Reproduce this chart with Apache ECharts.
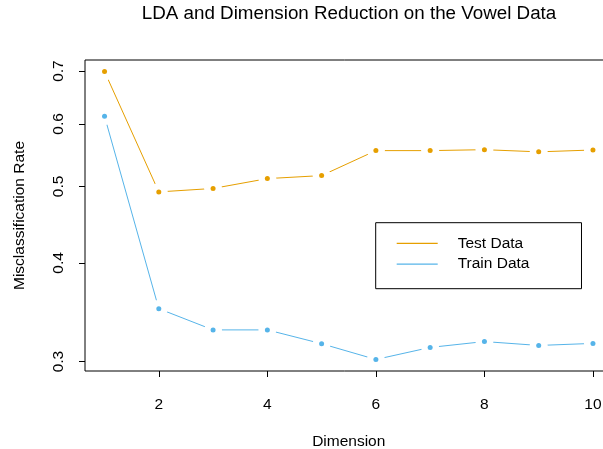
<!DOCTYPE html>
<html>
<head>
<meta charset="utf-8">
<script src="https://cdn.jsdelivr.net/npm/echarts@6/dist/echarts.min.js"></script>
<style>
html,body{margin:0;padding:0;background:#fff;}
#chart{width:603px;height:449px;}
</style>
</head>
<body>
<div id="chart"></div>
<script>
// ---- data ----
var dims = [1, 2, 3, 4, 5, 6, 7, 8, 9, 10];
var testRate = [0.699, 0.492, 0.497, 0.5115, 0.516, 0.555, 0.555, 0.5565, 0.553, 0.556];
var trainRate = [0.6135, 0.350, 0.329, 0.329, 0.316, 0.3018, 0.3126, 0.318, 0.3144, 0.3163];
var xTicks = [2, 4, 6, 8, 10];
var yTicks = [0.3, 0.4, 0.5, 0.6, 0.7];
var seriesNames = ['Test Data', 'Train Data'];
var colors = ['#E69F00', '#56B4E9'];

// ---- scales (R-style 4% padding, log y) ----
var FONT = 'Liberation Sans, Arial, Helvetica, sans-serif';
var xmin = Math.min.apply(null, dims), xmax = Math.max.apply(null, dims);
var xpad = 0.04 * (xmax - xmin);
var all = testRate.concat(trainRate).map(Math.log);
var lmin = Math.min.apply(null, all), lmax = Math.max.apply(null, all);
var lpad = 0.04 * (lmax - lmin);

function pairs(vals) {
  return dims.map(function (d, i) { return [d, Math.log(vals[i])]; });
}

var series = [];
[testRate, trainRate].forEach(function (vals, k) {
  var data = pairs(vals);
  series.push({
    name: seriesNames[k], type: 'line', data: data, showSymbol: false,
    lineStyle: { color: colors[k], width: 1 }, itemStyle: { color: colors[k] },
    z: 2, animation: false
  });
  series.push({
    type: 'scatter', data: data, symbolSize: 18, silent: true,
    itemStyle: { color: '#ffffff', opacity: 1 }, z: 3, animation: false
  });
  series.push({
    type: 'scatter', data: data, symbolSize: 5, silent: true,
    itemStyle: { color: colors[k], opacity: 1 }, z: 4, animation: false
  });
});

var chart = echarts.init(document.getElementById('chart'), null, { renderer: 'canvas' });
chart.setOption({
  animation: false,
  backgroundColor: '#ffffff',
  textStyle: { fontFamily: FONT },
  title: {
    text: 'LDA and Dimension Reduction on the Vowel Data',
    left: 349, top: 4, padding: 0, textAlign: 'center',
    textStyle: { fontFamily: FONT, fontSize: 18.8, fontWeight: 'normal', color: '#000' }
  },
  grid: {
    left: 85, top: 60, width: 527.5, height: 311,
    show: true, borderColor: '#000', borderWidth: 1, backgroundColor: 'transparent',
    containLabel: false, outerBoundsMode: 'none'
  },
  legend: {
    data: seriesNames.map(function (n, k) { return { name: n, icon: 'rect', itemStyle: { color: colors[k] } }; }),
    orient: 'vertical',
    left: 375.7, top: 222.7,
    padding: [10.3, 52, 14.3, 21],
    itemWidth: 41, itemHeight: 1.2, itemGap: 0,
    borderColor: '#000', borderWidth: 1, backgroundColor: '#fff',
    selectedMode: false,
    textStyle: { fontFamily: FONT, fontSize: 15.5, color: '#000', lineHeight: 20.7, padding: [0, 0, 0, 15] }
  },
  xAxis: {
    type: 'value', min: xmin - xpad, max: xmax + xpad,
    name: 'Dimension', nameLocation: 'middle', nameGap: 63,
    nameTextStyle: { fontFamily: FONT, fontSize: 15.5, color: '#000' },
    axisLine: { show: false },
    splitLine: { show: false },
    axisTick: { show: true, inside: false, length: 6, customValues: xTicks, lineStyle: { color: '#000', width: 1 } },
    axisLabel: { customValues: xTicks, margin: 26, fontFamily: FONT, fontSize: 15.5, color: '#000' }
  },
  yAxis: {
    type: 'value', min: lmin - lpad, max: lmax + lpad,
    name: 'Misclassification Rate', nameLocation: 'middle', nameGap: 57, nameRotate: 90,
    nameTextStyle: { fontFamily: FONT, fontSize: 15.5, color: '#000' },
    axisLine: { show: false },
    splitLine: { show: false },
    axisTick: { show: true, inside: false, length: 6, customValues: yTicks.map(Math.log), lineStyle: { color: '#000', width: 1 } },
    axisLabel: {
      customValues: yTicks.map(Math.log), rotate: 90, margin: 18,
      fontFamily: FONT, fontSize: 15.5, color: '#000',
      formatter: function (v) { return Math.exp(v).toFixed(1); }
    }
  },
  series: series
});
</script>
</body>
</html>
